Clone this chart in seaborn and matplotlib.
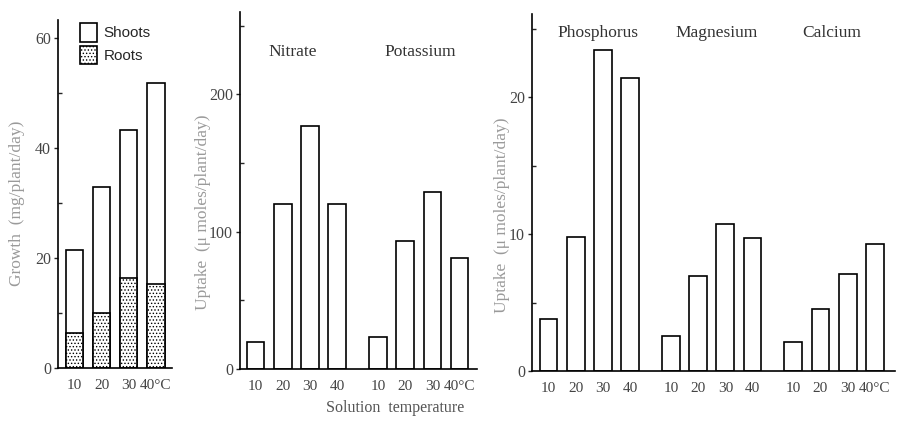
import numpy as np
import pandas as pd
import seaborn as sns
from matplotlib import pyplot as plt
from matplotlib.patches import Patch
from matplotlib.ticker import MultipleLocator

# values
temps = ["10", "20", "30", "40"]
growth_total = [21.5, 32.9, 43.3, 51.8]   # shoots + roots (top of bar)
growth_roots = [6.4, 10.0, 16.4, 15.3]
nitrate = [20, 120, 177, 120]
potassium = [23, 93, 129, 81]
phosphorus = [3.8, 9.8, 23.4, 21.4]
magnesium = [2.55, 6.9, 10.7, 9.7]
calcium = [2.1, 4.5, 7.1, 9.3]

sns.set_style("ticks")
plt.rcParams["font.family"] = ["Liberation Serif", "DejaVu Serif"]
plt.rcParams["hatch.color"] = "black"
plt.rcParams["hatch.linewidth"] = 0.6

TICK_C = "#444444"
LABEL_C = "#9a9a9a"
W = 0.65
TXT = 12.5
TICK = 11


def group_frame(groups):
    rows = []
    offset = 0.0
    for name, vals in groups:
        for i, v in enumerate(vals):
            rows.append({"group": name, "pos": offset + i, "value": v, "temp": temps[i]})
        offset += len(vals) + 0.5
    return pd.DataFrame(rows)


def style_axis(ax, df, major, minor, xlim, ylim):
    ax.set_xlim(*xlim)
    ax.set_ylim(*ylim)
    sns.despine(ax=ax)
    for s in ["left", "bottom"]:
        ax.spines[s].set_linewidth(1.2)
        ax.spines[s].set_color("black")
    ax.yaxis.set_major_locator(MultipleLocator(major))
    ax.yaxis.set_minor_locator(MultipleLocator(minor))
    ax.tick_params(axis="y", which="major", direction="out", length=3, width=1,
                   labelsize=TICK + 0.5, labelcolor=TICK_C, pad=2)
    ax.tick_params(axis="y", which="minor", direction="in", length=3, width=1)
    labels = list(df["temp"])
    labels[-1] = "40°C"
    ax.set_xticks(df["pos"])
    ax.set_xticklabels(labels)
    ax.tick_params(axis="x", length=0, labelsize=TICK, labelcolor=TICK_C, pad=8)
    ax.set_xlabel("")
    ax.set_ylabel("")


def bars(ax, df, **kw):
    sns.barplot(data=df, x="pos", y="value", native_scale=True, width=W,
                color="white", saturation=1, edgecolor="black", linewidth=1.2,
                errorbar=None, ax=ax, **kw)


fig = plt.figure(figsize=(8.98, 4.23), dpi=100)
FW, FH = 898, 423


def axes_px(x0, x1, ytop, ybot):
    return fig.add_axes([x0 / FW, 1 - ybot / FH, (x1 - x0) / FW, (ybot - ytop) / FH])


# --- panel 1: growth ---
ax1 = axes_px(58, 172, 20, 368)
df_tot = group_frame([("total", growth_total)])
df_root = group_frame([("roots", growth_roots)])
bars(ax1, df_tot)
n0 = len(ax1.patches)
bars(ax1, df_root)
for p in ax1.patches[n0:]:
    p.set_hatch(".....")
style_axis(ax1, df_tot, 20, 10, (-0.61, 3.6), (0, 63.3))
handles = [Patch(facecolor="white", edgecolor="black", linewidth=1.2, label="Shoots"),
           Patch(facecolor="white", edgecolor="black", linewidth=1.2, hatch=".....", label="Roots")]
ax1.legend(handles=handles, loc="upper left", bbox_to_anchor=(0.17, 1.0),
           frameon=False, handlelength=1.1, handleheight=1.5, handletextpad=0.4,
           labelspacing=0.25, borderaxespad=0, borderpad=0.2,
           prop={"family": "Liberation Sans", "size": 11})
fig.text(17 / FW, 1 - 203 / FH, "Growth  (mg/plant/day)", rotation=90,
         ha="center", va="center", fontsize=TXT, color=LABEL_C)

# --- panel 2: nitrate / potassium ---
ax2 = axes_px(240, 477, 12, 369)
df2 = group_frame([("Nitrate", nitrate), ("Potassium", potassium)])
bars(ax2, df2)
style_axis(ax2, df2, 100, 50, (-0.57, 8.14), (0, 260))
for name, xc in [("Nitrate", 1.38), ("Potassium", 6.05)]:
    ax2.text(xc, 231, name, ha="center", va="center", fontsize=TXT, color="#333333")
fig.text(203 / FW, 1 - 212 / FH, "Uptake  (μ moles/plant/day)", rotation=90,
         ha="center", va="center", fontsize=TXT, color=LABEL_C)

# --- panel 3: phosphorus / magnesium / calcium ---
ax3 = axes_px(532, 895, 14, 371)
df3 = group_frame([("Phosphorus", phosphorus), ("Magnesium", magnesium), ("Calcium", calcium)])
bars(ax3, df3)
style_axis(ax3, df3, 10, 5, (-0.61, 12.74), (0, 26.06))
for name, xc in [("Phosphorus", 1.82), ("Magnesium", 6.16), ("Calcium", 10.4)]:
    ax3.text(xc, 24.7, name, ha="center", va="center", fontsize=TXT, color="#333333")
fig.text(502 / FW, 1 - 215 / FH, "Uptake  (μ moles/plant/day)", rotation=90,
         ha="center", va="center", fontsize=TXT, color=LABEL_C)

fig.text(395 / FW, 1 - 408 / FH, "Solution  temperature", ha="center", va="center",
         fontsize=11.5, color="#555555")

fig.savefig("out.png", dpi=100)
